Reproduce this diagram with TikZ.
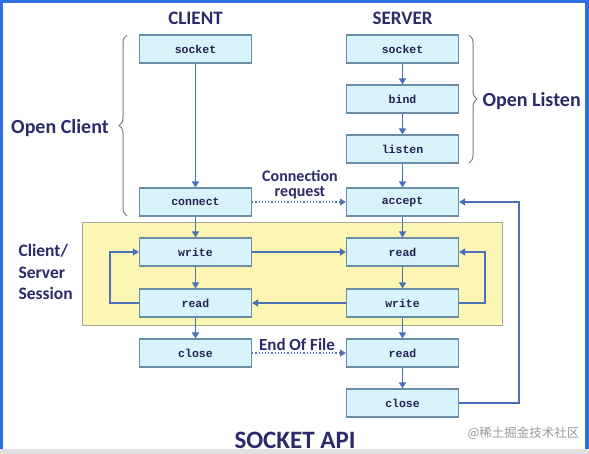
\documentclass[tikz,border=0pt]{standalone}
\usepackage{fontspec}
\setmainfont{Carlito}
\setmonofont{Liberation Mono}
\newfontfamily\cjk{Noto Sans CJK SC}
\usetikzlibrary{arrows.meta,decorations.pathreplacing}
\definecolor{navy}{HTML}{2B2B6B}
\definecolor{arrowblue}{HTML}{4A70B8}
\definecolor{boxedge}{HTML}{6A8EA8}
\definecolor{boxfill}{HTML}{D8F3FB}
\definecolor{sessfill}{HTML}{FCF5B4}
\definecolor{sessedge}{HTML}{A8A898}
\definecolor{frameblue}{HTML}{2F6FE0}
\definecolor{bracegray}{HTML}{7A7A8A}
\begin{document}
\begin{tikzpicture}[x=1pt,y=-1pt,
  fn/.style={draw=boxedge,fill=boxfill,line width=1.2pt,minimum width=112pt,minimum height=28pt,inner sep=0pt,
     font=\fontsize{11.5}{13}\selectfont\ttfamily\bfseries,text=navy!80!black},
  flow/.style={draw=arrowblue,line width=1.5pt,-{Triangle[width=7pt,length=6pt]}},
  dotflow/.style={draw=arrowblue!80!gray,line width=1.2pt,dotted,-{Triangle[width=7pt,length=6pt]}},
  title/.style={font=\fontsize{19}{21}\selectfont\bfseries,text=navy},
  lbl/.style={font=\fontsize{17.5}{15}\selectfont\bfseries,text=navy},
  bracestyle/.style={draw=bracegray,line width=1pt,decorate,decoration={brace,amplitude=8pt}}]
\useasboundingbox (0,0) rectangle (589,454);
\fill[white] (0,0) rectangle (589,454);
% frame
\fill[frameblue] (0,0) rectangle (589,3);
\fill[frameblue] (0,0) rectangle (2.5,449);
\fill[frameblue] (585,0) rectangle (589,449);
\fill[black!12] (0,449) rectangle (589,454);
% session area
\node[draw=sessedge,fill=sessfill,line width=1pt,minimum width=420pt,minimum height=103pt,inner sep=0pt] (sess) at (292,274.5) {};
% titles
\node[title] (tclient) at (195.5,18) {CLIENT};
\node[title] (tserver) at (402.5,18) {SERVER};
\node[font=\fontsize{25}{27}\selectfont\bfseries,text=navy] (tapi) at (295,440) {SOCKET API};
% client boxes
\node[fn] (csocket) at (195.5,49) {socket};
\node[fn] (cconnect) at (195.5,202) {connect};
\node[fn] (cwrite) at (195.5,252) {write};
\node[fn] (cread) at (195.5,303) {read};
\node[fn] (cclose) at (195.5,353) {close};
% server boxes
\node[fn] (ssocket) at (402.5,49) {socket};
\node[fn] (sbind) at (402.5,99) {bind};
\node[fn] (slisten) at (402.5,149) {listen};
\node[fn] (saccept) at (402.5,202) {accept};
\node[fn] (sread) at (402.5,252) {read};
\node[fn] (swrite) at (402.5,303) {write};
\node[fn] (sread2) at (402.5,353) {read};
\node[fn] (sclose) at (402.5,403) {close};
% client flow
\draw[flow] (csocket) -- (cconnect);
\draw[flow] (cconnect) -- (cwrite);
\draw[flow] (cwrite) -- (cread);
\draw[flow] (cread) -- (cclose);
\draw[flow] (cread.west) -- (110,303) -- (110,252) -- (cwrite.west);
% server flow
\draw[flow] (ssocket) -- (sbind);
\draw[flow] (sbind) -- (slisten);
\draw[flow] (slisten) -- (saccept);
\draw[flow] (saccept) -- (sread);
\draw[flow] (sread) -- (swrite);
\draw[flow] (swrite) -- (sread2);
\draw[flow] (sread2) -- (sclose);
\draw[flow] (swrite.east) -- (485,303) -- (485,252) -- (sread.east);
\draw[flow] (sclose.east) -- (519,403) -- (519,202) -- (saccept.east);
% cross
\draw[flow] (cwrite.east) -- (sread.west);
\draw[flow] (swrite.west) -- (cread.east);
\draw[dotflow] (cconnect.east) -- (saccept.west);
\draw[dotflow] (cclose.east) -- (sread2.west);
\node[text=navy,font=\fontsize{16}{16}\selectfont\bfseries,inner sep=0pt] (lconn1) at (300,175.5) {Connection};
\node[text=navy,font=\fontsize{16}{16}\selectfont\bfseries,inner sep=0pt,anchor=base] (lconn2) at (300,197) {request};
\node[lbl,font=\fontsize{17}{15}\selectfont\bfseries] (leof) at (297,345) {End Of File};
% braces
\draw[bracestyle] (127,216) -- (127,35);
\draw[bracestyle] (469,35) -- (469,163);
\node[font=\fontsize{20}{22}\selectfont\bfseries,text=navy] (lopenc) at (60,128) {Open Client};
\node[font=\fontsize{20}{22}\selectfont\bfseries,text=navy,anchor=west] (lopenl) at (479,101) {Open Listen};
\node[lbl,align=left,anchor=north west,font=\fontsize{17.5}{21.5}\selectfont\bfseries] (lsess) at (15,241) {Client/\\Server\\Session};
% watermark
\node[text=black!40,font=\fontsize{12.5}{14}\selectfont\cjk,anchor=west] (wm) at (464,433) {@稀土掘金技术社区};
\end{tikzpicture}
\end{document}
